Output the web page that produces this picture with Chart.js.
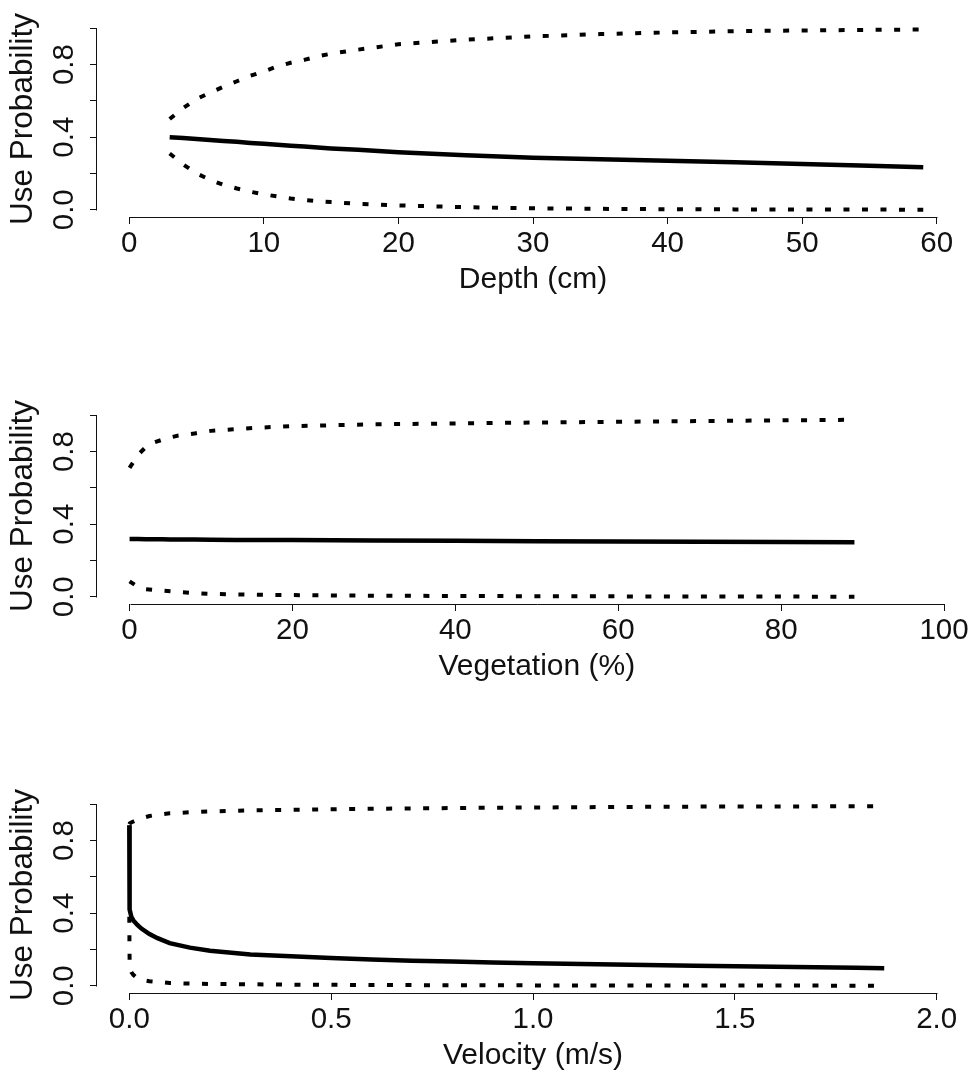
<!DOCTYPE html>
<html lang="en">
<head>
  <meta charset="UTF-8">
  <title>Use Probability</title>
  <script src="https://cdn.jsdelivr.net/npm/chart.js"></script>
  <style>
    html, body {
      margin: 0;
      padding: 0;
      background: #fff;
    }
    #wrap {
      position: relative;
      width: 974px;
      height: 1076px;
      overflow: hidden;
      background: #fff;
    }
    #wrap canvas {
      position: absolute;
      left: 0;
    }
  </style>
</head>
<body>
  <div id="wrap">
    <canvas id="depthChart" width="1000" height="300" style="top:0px"></canvas>
    <canvas id="vegChart" width="1000" height="300" style="top:387px"></canvas>
    <canvas id="velChart" width="1000" height="300" style="top:776px"></canvas>
  </div>
  <script>
    // Depth panel
    const depthX = [3, 4, 5, 6, 7, 8, 9, 10, 11, 12, 13, 14, 15, 17, 20, 25, 30, 35, 40, 45, 50, 55, 59];
    const depthFit = [0.400, 0.395, 0.390, 0.384, 0.379, 0.374, 0.368, 0.363, 0.358, 0.353, 0.348, 0.343, 0.338, 0.330, 0.317, 0.300, 0.287, 0.278, 0.270, 0.261, 0.252, 0.243, 0.234];
    const depthUpper = [0.50, 0.56, 0.61, 0.645, 0.678, 0.708, 0.738, 0.762, 0.79, 0.81, 0.826, 0.845, 0.86, 0.882, 0.912, 0.937, 0.955, 0.968, 0.977, 0.984, 0.988, 0.991, 0.993];
    const depthLower = [0.31, 0.25, 0.20, 0.165, 0.137, 0.117, 0.099, 0.085, 0.073, 0.062, 0.054, 0.047, 0.042, 0.033, 0.024, 0.014, 0.008, 0.005, 0.003, 0.002, 0.001, 0.001, 0.0];
    const depthTicks = [0, 10, 20, 30, 40, 50, 60];
    const depthTickLabels = ['0', '10', '20', '30', '40', '50', '60'];

    // Vegetation panel
    const vegX = [0, 1, 2, 3, 4, 5, 6, 8, 10, 13, 16, 20, 25, 30, 40, 50, 60, 70, 80, 89];
    const vegFit = [0.318, 0.318, 0.317, 0.317, 0.317, 0.316, 0.316, 0.315, 0.314, 0.313, 0.313, 0.312, 0.311, 0.310, 0.308, 0.306, 0.304, 0.303, 0.301, 0.300];
    const vegUpper = [0.71, 0.78, 0.825, 0.85, 0.865, 0.878, 0.888, 0.90, 0.914, 0.923, 0.932, 0.94, 0.945, 0.95, 0.955, 0.96, 0.964, 0.968, 0.972, 0.975];
    const vegLower = [0.085, 0.055, 0.042, 0.038, 0.034, 0.03, 0.026, 0.02, 0.016, 0.013, 0.011, 0.009, 0.007, 0.006, 0.004, 0.003, 0.002, 0.001, 0.001, 0.0];
    const vegTicks = [0, 20, 40, 60, 80, 100];
    const vegTickLabels = ['0', '20', '40', '60', '80', '100'];

    // Velocity panel
    const velX = [0, 0.0005, 0.001, 0.005, 0.01, 0.02, 0.03, 0.05, 0.07, 0.1, 0.15, 0.2, 0.3, 0.4, 0.5, 0.6, 0.7, 0.8, 0.9, 1.0, 1.2, 1.4, 1.6, 1.8, 1.87];
    const velFit = [0.885, 0.6, 0.42, 0.38, 0.36, 0.335, 0.315, 0.285, 0.262, 0.235, 0.21, 0.193, 0.172, 0.162, 0.153, 0.145, 0.138, 0.133, 0.128, 0.124, 0.117, 0.11, 0.104, 0.099, 0.097];
    const velUpper = [0.89, 0.892, 0.894, 0.9, 0.905, 0.915, 0.923, 0.935, 0.943, 0.95, 0.956, 0.96, 0.966, 0.969, 0.972, 0.975, 0.977, 0.979, 0.981, 0.982, 0.985, 0.987, 0.988, 0.989, 0.99];
    const velLower = [0.38, 0.2, 0.1, 0.075, 0.06, 0.04, 0.032, 0.025, 0.021, 0.015, 0.012, 0.01, 0.008, 0.006, 0.005, 0.004, 0.0035, 0.003, 0.0025, 0.002, 0.0015, 0.001, 0.0008, 0.0005, 0.0];
    const velTicks = [0, 0.5, 1.0, 1.5, 2.0];
    const velTickLabels = ['0.0', '0.5', '1.0', '1.5', '2.0'];

    // shared y axis
    const probTicks = [0, 0.2, 0.4, 0.6, 0.8, 1.0];
    const probTickLabels = ['0.0', '', '0.4', '', '0.8', ''];

    const FONT = "'Liberation Sans', Arial, sans-serif";
    const INK = '#111';

    // R style axes: the line only runs from the first to the last tick
    const rAxes = {
      id: 'rAxes',
      afterDraw(chart) {
        const ctx = chart.ctx;
        const xs = chart.scales.x, ys = chart.scales.y;
        ctx.save();
        ctx.strokeStyle = INK;
        ctx.lineWidth = 1;
        ctx.beginPath();
        const xa = Math.round(xs.getPixelForValue(xs.ticks[0].value)) + 0.5;
        const xb = Math.round(xs.getPixelForValue(xs.ticks[xs.ticks.length - 1].value)) + 0.5;
        const xy = Math.round(xs.top) + 0.5;
        ctx.moveTo(xa, xy);
        ctx.lineTo(xb, xy);
        const ya = Math.round(ys.getPixelForValue(ys.ticks[0].value)) + 0.5;
        const yb = Math.round(ys.getPixelForValue(ys.ticks[ys.ticks.length - 1].value)) + 0.5;
        const yx = Math.round(ys.right) - 0.5;
        ctx.moveTo(yx, ya);
        ctx.lineTo(yx, yb);
        ctx.stroke();
        ctx.restore();
      }
    };

    function pts(xv, yv) {
      return xv.map((x, i) => ({ x: x, y: yv[i] }));
    }

    function makePanel(id, xv, fit, upper, lower, xTicks, xLabels, xMin, xMax, xTitle, padRight) {
      const dotted = { borderColor: '#000', borderWidth: 4, borderDash: [6, 12.5], borderCapStyle: 'butt', pointRadius: 0, tension: 0, fill: false };
      return new Chart(document.getElementById(id), {
        type: 'line',
        data: {
          datasets: [
            Object.assign({ label: 'upper', data: pts(xv, upper) }, dotted),
            { label: 'fit', data: pts(xv, fit), borderColor: '#000', borderWidth: 4.5, pointRadius: 0, tension: 0, fill: false },
            Object.assign({ label: 'lower', data: pts(xv, lower) }, dotted)
          ]
        },
        options: {
          responsive: false,
          devicePixelRatio: 1,
          animation: false,
          layout: { padding: { top: 21, right: padRight, left: 0, bottom: 0 } },
          plugins: { legend: { display: false }, tooltip: { enabled: false } },
          scales: {
            x: {
              type: 'linear',
              min: xMin,
              max: xMax,
              afterBuildTicks: s => { s.ticks = xTicks.map(v => ({ value: v })); },
              afterFit: s => { s.height = 83; s.paddingLeft = 0; s.paddingRight = 0; },
              grid: { drawOnChartArea: false, drawTicks: true, tickLength: 7, color: INK, lineWidth: 1 },
              border: { display: false },
              ticks: {
                autoSkip: false, maxRotation: 0, padding: 2, color: INK,
                font: { family: FONT, size: 29.5 },
                callback: (v, i) => xLabels[i]
              },
              title: { display: true, text: xTitle, color: INK, font: { family: FONT, size: 30 }, padding: { top: 0, bottom: 2 } }
            },
            y: {
              type: 'linear',
              min: -0.04,
              max: 1.04,
              afterBuildTicks: s => { s.ticks = probTicks.map(v => ({ value: v })); },
              afterFit: s => { s.width = 97; s.paddingTop = 0; s.paddingBottom = 0; },
              grid: { drawOnChartArea: false, drawTicks: true, tickLength: 7, color: INK, lineWidth: 1 },
              border: { display: false },
              ticks: {
                autoSkip: false, minRotation: 90, maxRotation: 90, crossAlign: 'center', padding: 5, color: INK,
                font: { family: FONT, size: 29.5 },
                callback: (v, i) => probTickLabels[i]
              },
              title: { display: true, text: 'Use Probability', color: INK, font: { family: FONT, size: 31.5 }, padding: { top: 4, bottom: 0 } }
            }
          }
        },
        plugins: [rAxes]
      });
    }

    makePanel('depthChart', depthX, depthFit, depthUpper, depthLower, depthTicks, depthTickLabels, -2.4, 62.4, 'Depth (cm)', 31);
    makePanel('vegChart', vegX, vegFit, vegUpper, vegLower, vegTicks, vegTickLabels, -4, 104, 'Vegetation (%)', 23.4);
    makePanel('velChart', velX, velFit, velUpper, velLower, velTicks, velTickLabels, -0.08, 2.08, 'Velocity (m/s)', 31);
  </script>
</body>
</html>
